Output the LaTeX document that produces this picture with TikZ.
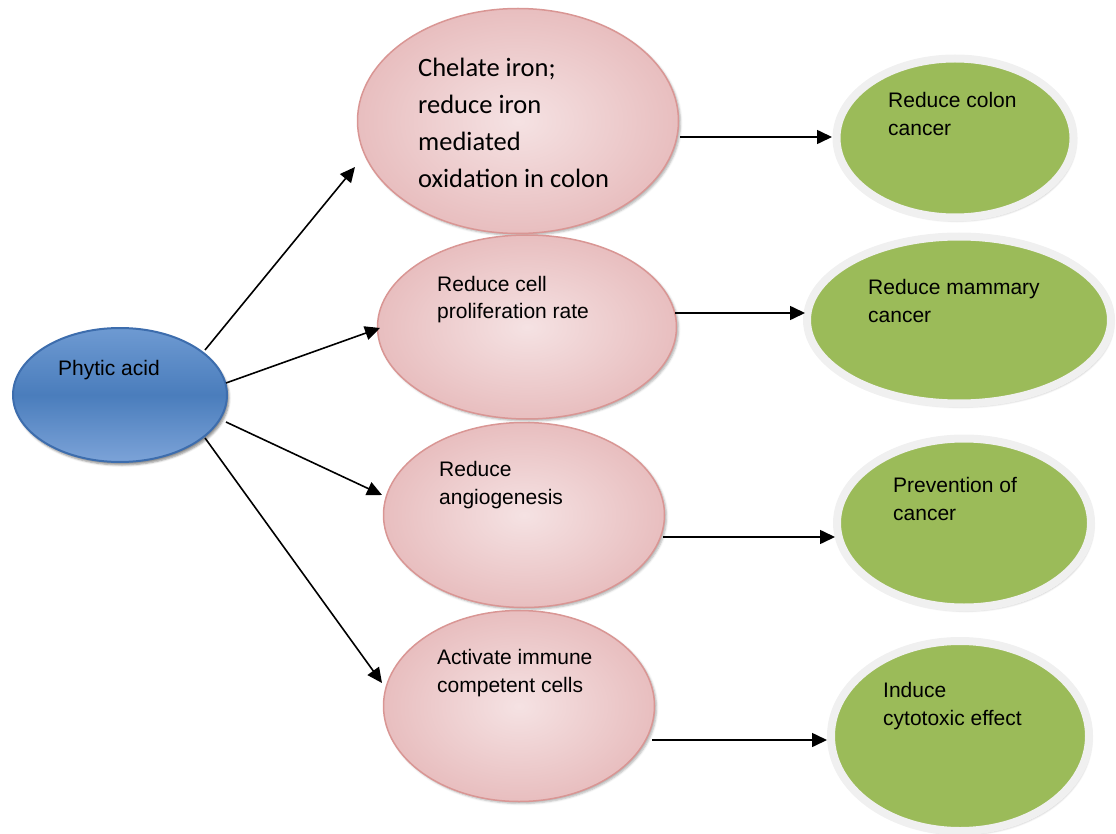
\documentclass[tikz,border=0pt]{standalone}
\usepackage{fontspec}
\setmainfont{Liberation Sans}
\newfontfamily\calfont{Carlito}
\usetikzlibrary{shapes.geometric,arrows.meta,shadows.blur}

\definecolor{pinkin}{HTML}{F5E2E3}
\definecolor{pinkout}{HTML}{E8BEBF}
\definecolor{pinkline}{HTML}{D99694}
\definecolor{bluetop}{HTML}{6E9AD2}
\definecolor{bluemid}{HTML}{4A7DBC}
\definecolor{bluebot}{HTML}{7CA3D8}
\definecolor{blueline}{HTML}{3D6DAD}
\definecolor{greenfill}{HTML}{9BBB59}
\definecolor{greenrim}{HTML}{F0F0F0}

\begin{document}
\begin{tikzpicture}[x=1pt,y=-1pt,
  ell/.style={ellipse, inner sep=0pt, outer sep=0pt},
  source/.style={ell, top color=bluetop, bottom color=bluebot, middle color=bluemid,
    draw=blueline, line width=2pt,
    blur shadow={shadow xshift=2pt, shadow yshift=-3pt, shadow opacity=45}},
  effect/.style={ell, inner color=pinkin, outer color=pinkout, draw=pinkline, line width=1.5pt,
    blur shadow={shadow xshift=2pt, shadow yshift=-2pt, shadow opacity=30}},
  outcome/.style={ell, fill=greenfill, draw=greenrim, line width=8pt,
    blur shadow={shadow xshift=2pt, shadow yshift=-3pt, shadow opacity=35}},
  lbl/.style={anchor=base west, align=left, inner sep=0pt, font=\fontsize{21}{28}\selectfont},
  lblc/.style={lbl, font=\calfont\fontsize{26.5}{37}\selectfont},
  arr/.style={line width=1.6pt, -{Triangle[length=15pt,width=14pt]}}
]
\useasboundingbox (0,0) rectangle (1116,834);

% source
\node[source, minimum width=214pt, minimum height=134pt] (blue) at (120,395) {};

% effects
\node[effect, minimum width=321pt, minimum height=225pt] (p1) at (518,121) {};
\node[effect, minimum width=299pt, minimum height=184pt] (p2) at (527,327) {};
\node[effect, minimum width=281pt, minimum height=185pt] (p3) at (524,515) {};
\node[effect, minimum width=271pt, minimum height=191pt] (p4) at (519,706) {};

% outcomes
\node[outcome, minimum width=237pt, minimum height=159pt] (g1) at (955,138) {};
\node[outcome, minimum width=304pt, minimum height=167pt] (g2) at (959,320) {};
\node[outcome, minimum width=254pt, minimum height=169pt] (g3) at (964,523) {};
\node[outcome, minimum width=258pt, minimum height=190pt] (g4) at (960,736) {};

% labels (anchor = baseline of the last line)
\node[lbl] (tblue) at (58,375) {Phytic acid};
\node[lblc] (tp1) at (418,188) {Chelate iron;\\reduce iron\\mediated\\oxidation in colon};
\node[lbl] (tp2) at (437,319) {Reduce cell\\proliferation rate};
\node[lbl] (tp3) at (439,504) {Reduce\\angiogenesis};
\node[lbl] (tp4) at (437,692) {Activate immune\\competent cells};
\node[lbl] (tg1) at (888,136) {Reduce colon\\cancer};
\node[lbl] (tg2) at (868,322) {Reduce mammary\\cancer};
\node[lbl] (tg3) at (893,520) {Prevention of\\cancer};
\node[lbl] (tg4) at (883,725) {Induce\\cytotoxic effect};

% connectors from source
\draw[arr] ([shift={(85,-45)}]blue.center) -- ([shift={(-163,46)}]p1.center);
\draw[arr] ([shift={(106,-12)}]blue.center) -- ([shift={(-147,1)}]p2.center);
\draw[arr] ([shift={(106,27)}]blue.center) -- ([shift={(-142,-20)}]p3.center);
\draw[arr] ([shift={(85,43)}]blue.center) -- ([shift={(-137,-23)}]p4.center);

% connectors to outcomes
\draw[arr] ([shift={(162,16)}]p1.center) -- ([shift={(-123,-1)}]g1.center);
\draw[arr] ([shift={(148,-14)}]p2.center) -- ([shift={(-154,-7)}]g2.center);
\draw[arr] ([shift={(139,22)}]p3.center) -- ([shift={(-129,14)}]g3.center);
\draw[arr] ([shift={(133,34)}]p4.center) -- ([shift={(-133,4)}]g4.center);
\end{tikzpicture}
\end{document}
